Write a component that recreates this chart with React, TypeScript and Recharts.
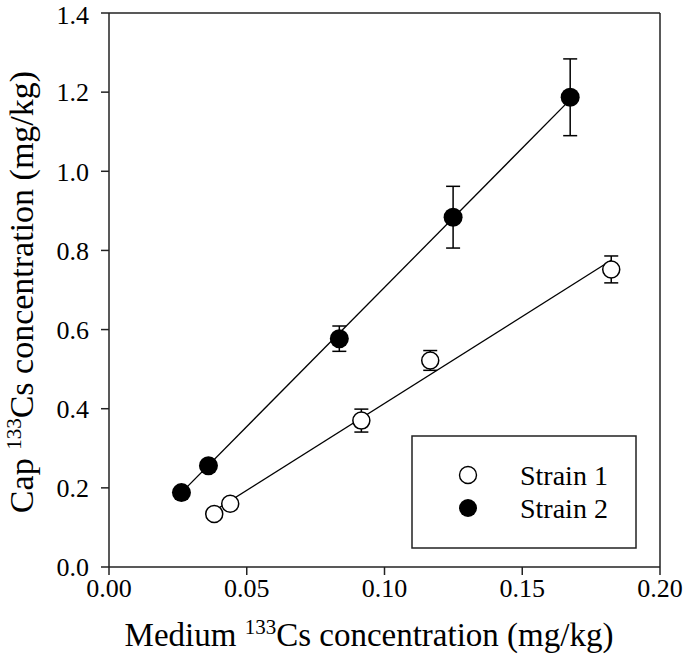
import { ComposedChart, Scatter, XAxis, YAxis, ErrorBar, ReferenceLine } from 'recharts';

const strain1X = [0.0382, 0.044, 0.0916, 0.1166, 0.1823];
const strain1Y = [0.134, 0.16, 0.37, 0.522, 0.752];
const strain1Err = [0.01, 0.01, 0.029, 0.025, 0.034];

const strain2X = [0.0263, 0.0361, 0.0836, 0.1249, 0.1674];
const strain2Y = [0.188, 0.256, 0.577, 0.884, 1.187];
const strain2Err = [0.01, 0.01, 0.032, 0.078, 0.097];

// regression line end points
const fit1X = [0.0382, 0.1823];
const fit1Y = [0.142, 0.775];
const fit2X = [0.0263, 0.1674];
const fit2Y = [0.188, 1.181];

const xTicks = [0, 0.05, 0.1, 0.15, 0.2];
const yTicks = [0, 0.2, 0.4, 0.6, 0.8, 1.0, 1.2, 1.4];
const legendNames = ['Strain 1', 'Strain 2'];

const s1 = strain1X.map((x, i) => ({ x, y: strain1Y[i], err: strain1Err[i] }));
const s2 = strain2X.map((x, i) => ({ x, y: strain2Y[i], err: strain2Err[i] }));
const f1 = fit1X.map((x, i) => ({ x, y: fit1Y[i] }));
const f2 = fit2X.map((x, i) => ({ x, y: fit2Y[i] }));

const font = 'Liberation Serif';
const axisColor = '#222';

const OpenDot = (p: any) => <circle cx={p.cx} cy={p.cy} r={8.5} fill="#fff" stroke="#000" strokeWidth={1.5} />;
const FilledDot = (p: any) => <circle cx={p.cx} cy={p.cy} r={9.5} fill="#000" />;
const NoDot = () => <g />;

export default function App() {
  return (
    <div style={{ position: 'absolute', left: 0, top: 0, fontFamily: font }}>
      <ComposedChart width={685} height={663} margin={{ top: 13, right: 25, left: 0, bottom: 0 }} style={{ fontFamily: font }}>
        <XAxis
          type="number"
          dataKey="x"
          domain={[0, 0.2]}
          ticks={xTicks}
          tickFormatter={(v: number) => v.toFixed(2)}
          height={96}
          tickSize={8}
          tickMargin={4}
          axisLine={{ stroke: axisColor, strokeWidth: 1.5 }}
          tickLine={{ stroke: axisColor, strokeWidth: 1.5 }}
          tick={{ fill: '#000', fontSize: 26, fontFamily: font }}
          allowDataOverflow
        />
        <YAxis
          type="number"
          dataKey="y"
          domain={[0, 1.4]}
          ticks={yTicks}
          tickFormatter={(v: number) => v.toFixed(1)}
          width={109}
          tickSize={8}
          tickMargin={12}
          axisLine={{ stroke: axisColor, strokeWidth: 1.5 }}
          tickLine={{ stroke: axisColor, strokeWidth: 1.5 }}
          tick={{ fill: '#000', fontSize: 26, fontFamily: font }}
          allowDataOverflow
        />
        <ReferenceLine y={1.4} stroke={axisColor} strokeWidth={1.5} />
        <ReferenceLine x={0.2} stroke={axisColor} strokeWidth={1.5} />
        <Scatter data={f1} line={{ stroke: '#000', strokeWidth: 1.3 }} shape={NoDot} legendType="none" isAnimationActive={false} />
        <Scatter data={f2} line={{ stroke: '#000', strokeWidth: 1.3 }} shape={NoDot} legendType="none" isAnimationActive={false} />
        <Scatter name={legendNames[0]} data={s1} shape={OpenDot} isAnimationActive={false}>
          <ErrorBar dataKey="err" direction="y" width={7} stroke="#000" strokeWidth={1.5} />
        </Scatter>
        <Scatter name={legendNames[1]} data={s2} shape={FilledDot} isAnimationActive={false}>
          <ErrorBar dataKey="err" direction="y" width={7} stroke="#000" strokeWidth={1.5} />
        </Scatter>
        {/* legend box */}
        <g>
          <rect x={412} y={436} width={224} height={112} fill="#fff" stroke="#222" strokeWidth={1.5} />
          <circle cx={468} cy={475} r={8.5} fill="#fff" stroke="#000" strokeWidth={1.4} />
          <circle cx={468} cy={508} r={9} fill="#000" />
          <text x={520} y={485} fontFamily={font} fontSize={28} fill="#000">{legendNames[0]}</text>
          <text x={520} y={518} fontFamily={font} fontSize={28} fill="#000">{legendNames[1]}</text>
        </g>
        <text x={33} y={292} transform="rotate(-90 33 292)" textAnchor="middle" fontFamily={font} fontSize={34} fill="#000">
          Cap <tspan fontSize={21} dy={-12}>133</tspan><tspan dy={12}>Cs concentration (mg/kg)</tspan>
        </text>
        <text x={369} y={646} textAnchor="middle" fontFamily={font} fontSize={33} fill="#000">
          Medium <tspan fontSize={21} dy={-12}>133</tspan><tspan dy={12}>Cs concentration (mg/kg)</tspan>
        </text>
      </ComposedChart>
    </div>
  );
}
